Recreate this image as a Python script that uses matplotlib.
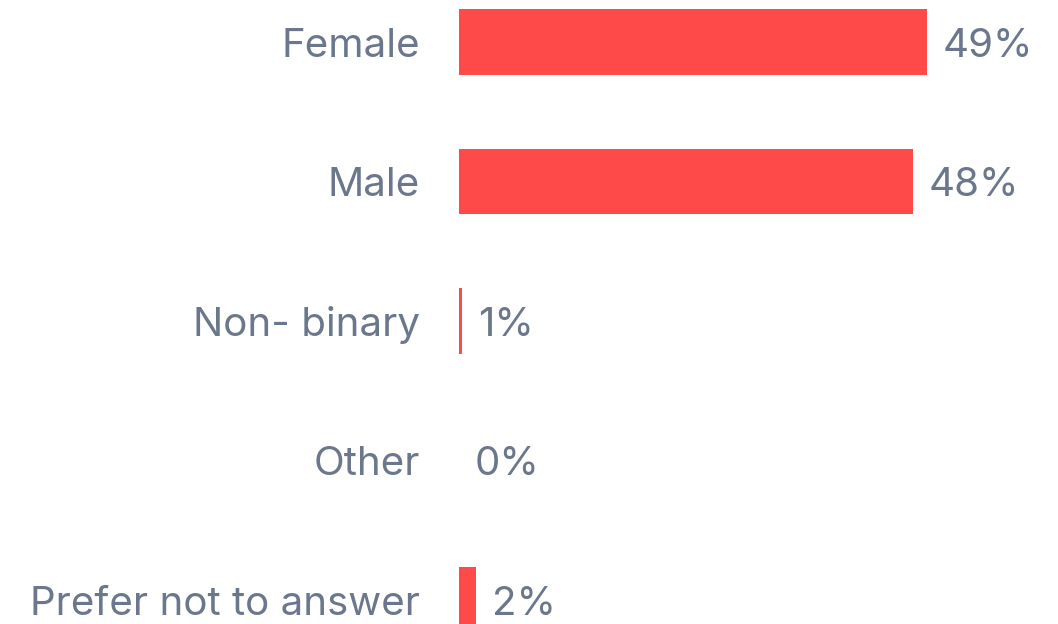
import matplotlib
matplotlib.use('agg')
import matplotlib.pyplot as plt

# data
categories = ["Female", "Male", "Non- binary", "Other", "Prefer not to answer"]
values = [49.0, 47.5, 0.3, 0.0, 1.8]
value_labels = ["49%", "48%", "1%", "0%", "2%"]

bar_color = "#FF4A4A"
text_color = "#6B778C"

plt.rcParams['font.family'] = ['Inter', 'DejaVu Sans']

W, H = 1058, 624
fig = plt.figure(figsize=(W / 100, H / 100), dpi=100)
ax = fig.add_axes([459 / W, 0, (W - 459) / W, 1])

ypos = list(range(len(categories)))
ax.barh(ypos, values, height=0.47, color=bar_color)

row = 139.5
ax.set_ylim((H - 42) / row, -42 / row)
ax.set_xlim(0, 49.0 * (W - 459) / 468)

for y, v, lab, cat in zip(ypos, values, value_labels, categories):
    ax.annotate(lab, (v, y), xytext=(11.5, -3), textcoords='offset points',
                ha='left', va='center', fontsize=29, color=text_color)
    ax.annotate(cat, (0, y), xytext=(-28, -3), textcoords='offset points',
                ha='right', va='center', fontsize=29, color=text_color,
                annotation_clip=False)

ax.axis('off')
fig.savefig('out.png', dpi=100)
plt.close()
